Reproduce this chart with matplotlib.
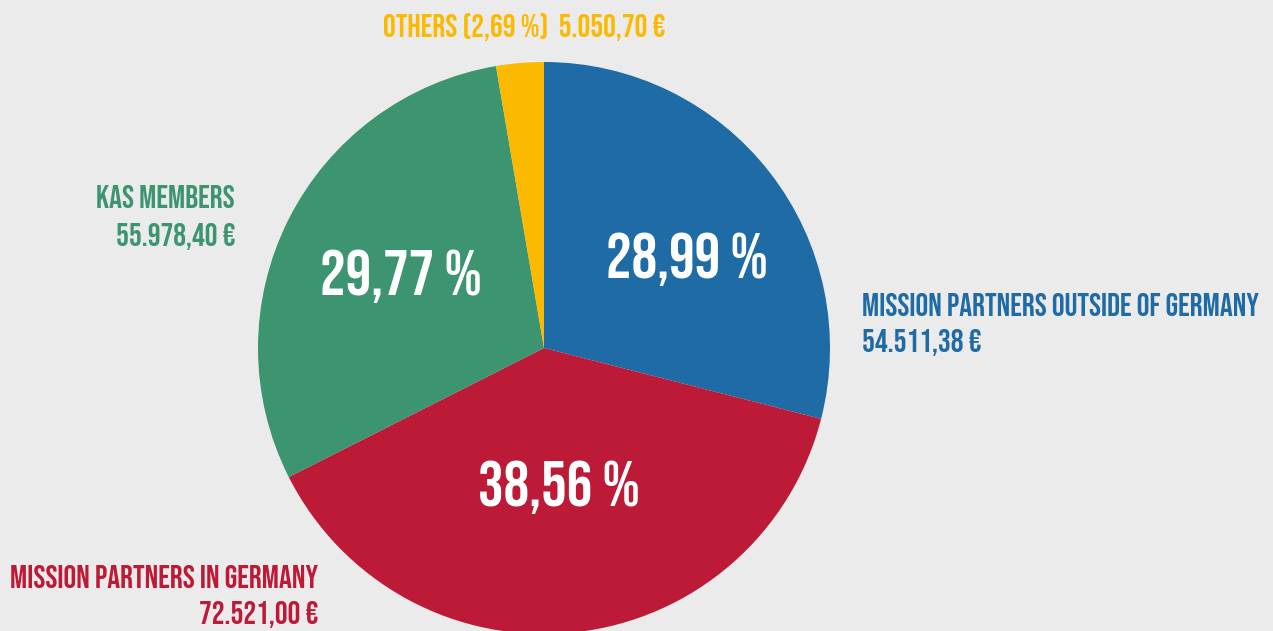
import numpy as np
import matplotlib.pyplot as plt

# donation sources (EUR), clockwise from top
labels = ["MISSION PARTNERS OUTSIDE OF GERMANY", "MISSION PARTNERS IN GERMANY", "KAS MEMBERS", "OTHERS"]
values = [54511.38, 72521.00, 55978.40, 5050.70]
colors = ["#1f6ba5", "#bc1a36", "#3c9470", "#fbb900"]
bg = "#ebebeb"

plt.rcParams["font.family"] = ["Bebas Neue", "DejaVu Sans"]

W, H = 1273, 631
fig = plt.figure(figsize=(W / 100, H / 100), dpi=100, facecolor=bg)

cx, cy, r = 544, 348, 286
ax = fig.add_axes([(cx - r) / W, (H - cy - r) / H, 2 * r / W, 2 * r / H])
ax.set_facecolor(bg)

def fmt_eur(v):
    s = f"{v:,.2f}".replace(",", "X").replace(".", ",").replace("X", ".")
    return s + " €"

def fmt_pct(p):
    return f"{p:.2f}".replace(".", ",") + " %"

total = sum(values)
pcts = [v / total * 100 for v in values]

wedges, _ = ax.pie(values, colors=colors, startangle=90, counterclock=False,
                   radius=1, wedgeprops=dict(linewidth=0))
ax.set_xlim(-1, 1)
ax.set_ylim(-1, 1)
ax.set_aspect("equal")
ax.axis("off")

# percentage labels inside the three big wedges (polar offset: angle shift, distance)
label_pos = [(-6, 0.59), (0, 0.49), (0, 0.56)]
for w, p, (da, d) in zip(wedges[:3], pcts[:3], label_pos):
    ang = np.deg2rad((w.theta1 + w.theta2) / 2 + da)
    ax.text(d * np.cos(ang), d * np.sin(ang), fmt_pct(p), color="white",
            fontsize=46, ha="center", va="center")

def ftext(x, y, s, c, ha="left", size=23):
    fig.text(x / W, 1 - y / H, s, color=c, ha=ha, va="center", fontsize=size)

ftext(862, 304, labels[0], colors[0])
ftext(862, 343, fmt_eur(values[0]), colors[0])
ftext(318, 577, labels[1], colors[1], ha="right")
ftext(318, 614, fmt_eur(values[1]), colors[1], ha="right")
ftext(235, 196, labels[2], colors[2], ha="right")
ftext(235, 236, fmt_eur(values[2]), colors[2], ha="right")
ftext(383, 27, f"{labels[3]} ({fmt_pct(pcts[3])})  {fmt_eur(values[3])}", colors[3])

fig.savefig("out.png", dpi=100, facecolor=bg)
